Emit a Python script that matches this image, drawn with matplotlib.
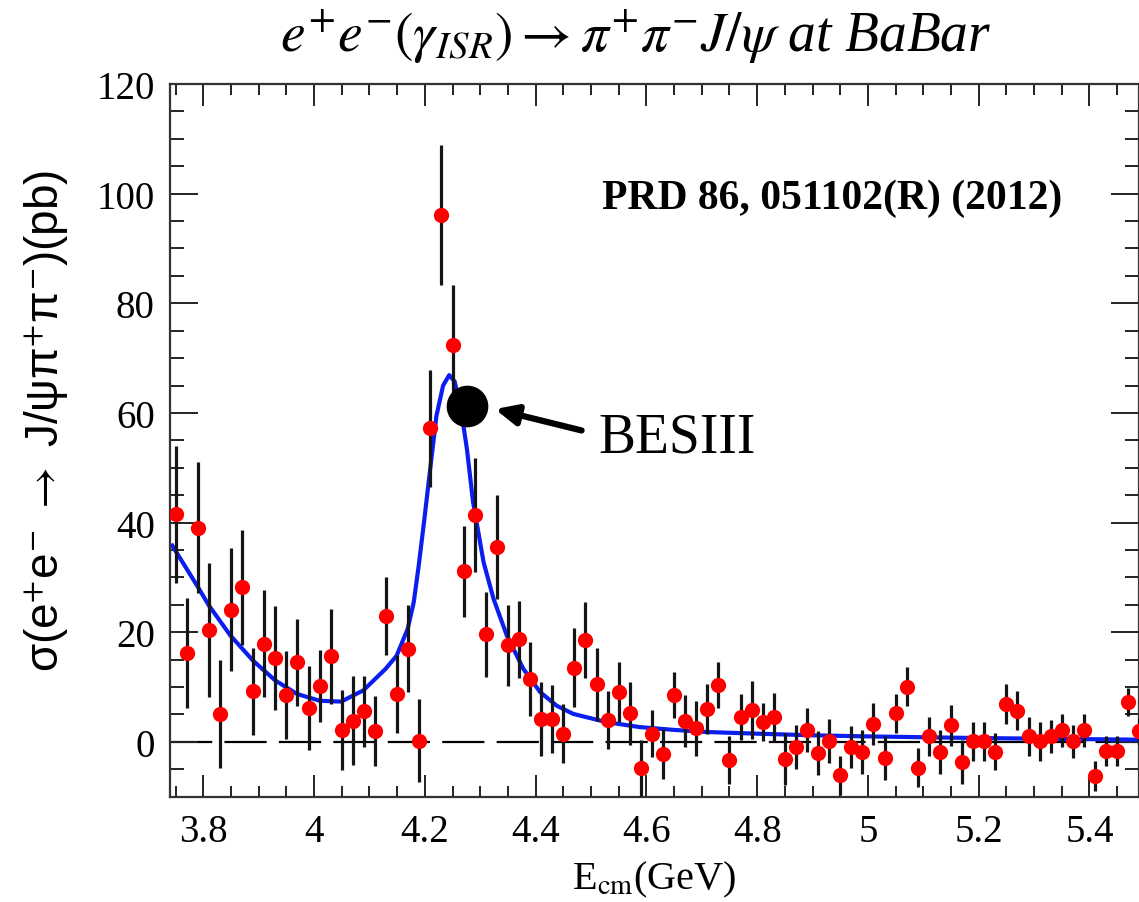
import numpy as np
import matplotlib
matplotlib.use("Agg")
import matplotlib.pyplot as plt

plt.rcParams['font.family'] = ['Liberation Serif', 'DejaVu Serif']
plt.rcParams['mathtext.fontset'] = 'stix'

# BaBar ISR data points (E_cm in GeV, sigma in pb, symmetric error)
e_cm = np.round(np.arange(88) * 0.02 + 3.75, 2)
sigma = [41.5, 16.2, 39.1, 20.4, 5.1, 24.1, 28.2, 9.2, 17.9, 15.3,
         8.6, 14.5, 6.2, 10.2, 15.6, 2.2, 3.9, 5.6, 2.0, 23.0,
         8.7, 17.0, 0.2, 57.2, 96.1, 72.4, 31.1, 41.3, 19.6, 35.6,
         17.6, 18.7, 11.5, 4.2, 4.2, 1.5, 13.5, 18.6, 10.5, 4.0,
         9.1, 5.2, -4.7, 1.5, -2.2, 8.5, 3.8, 2.5, 6.0, 10.4,
         -3.3, 4.5, 5.8, 3.6, 4.5, -3.1, -1.0, 2.2, -2.0, 0.2,
         -6.1, -0.9, -1.9, 3.3, -2.9, 5.2, 10.1, -4.7, 1.0, -1.9,
         3.0, -3.6, 0.1, 0.1, -1.8, 6.9, 5.7, 1.0, 0.1, 1.0,
         2.1, 0.1, 2.1, -6.2, -1.7, -1.7, 7.3, 1.9]
sigma_err = [12.5, 10.0, 12.0, 12.3, 9.8, 11.2, 10.5, 8.0, 9.8, 9.5,
             8.0, 8.0, 7.7, 6.5, 8.6, 7.3, 8.2, 6.5, 6.4, 7.1,
             7.1, 7.9, 7.6, 10.7, 12.7, 11.0, 8.3, 10.4, 7.7, 9.5,
             7.4, 7.0, 6.7, 6.7, 6.2, 5.4, 7.2, 7.0, 6.7, 5.3,
             5.5, 5.8, 5.1, 4.3, 4.5, 4.2, 4.7, 5.0, 4.6, 4.2,
             4.4, 4.2, 5.3, 3.5, 4.5, 4.7, 4.0, 4.0, 4.0, 4.0,
             3.5, 3.8, 4.0, 3.8, 4.0, 3.6, 3.5, 3.5, 3.5, 4.0,
             3.8, 4.0, 3.6, 3.6, 3.4, 3.6, 3.5, 3.5, 3.5, 3.0,
             3.0, 3.0, 3.0, 2.7, 2.7, 2.7, 2.6, 2.5]

# fit curve
fit_x = [3.744, 3.790, 3.810, 3.849, 3.890, 3.930, 3.969, 4.010, 4.049,
         4.089, 4.129, 4.149, 4.169, 4.180, 4.189, 4.199, 4.209, 4.221,
         4.233, 4.244, 4.254, 4.267, 4.276, 4.287, 4.306, 4.324, 4.348,
         4.378, 4.408, 4.438, 4.468, 4.528, 4.588, 4.648, 4.709, 4.799,
         4.90, 5.00, 5.20, 5.49]
fit_y = [35.8, 28.3, 24.9, 19.4, 14.8, 11.2, 8.75, 7.5, 7.35,
         9.4, 13.3, 15.7, 20.6, 25.5, 32.2, 40.5, 49.2, 59.5,
         65.0, 66.9, 65.7, 59.5, 53.4, 43.8, 32.8, 26.1, 19.4,
         13.3, 9.1, 6.6, 5.1, 3.6, 2.7, 2.2, 1.8, 1.5,
         1.2, 1.0, 0.7, 0.4]

bes_x = [4.276]
bes_y = [61.3]

fig = plt.figure(figsize=(11.39, 9.03), dpi=100)
ax = fig.add_axes([0.1493, 0.1166, 0.851, 0.7893])

ax.axhline(0, color='black', lw=1.6, dashes=(19, 5.5), zorder=1)
ax.plot(fit_x, fit_y, color='#0a1ef0', lw=3.0, zorder=2)
ax.errorbar(e_cm, sigma, yerr=sigma_err, fmt='o', color='#ff0000',
            ms=11, mec='none', ecolor='#151515', elinewidth=2.3,
            capsize=0, zorder=3)
ax.plot(bes_x, bes_y, 'o', color='black', ms=29, zorder=5)

ax.annotate('', xy=(4.3266, 60.7), xytext=(4.483, 56.8),
            arrowprops=dict(arrowstyle='-|>,head_length=1.3,head_width=0.6',
                            color='black', lw=4.5, shrinkA=0, shrinkB=0),
            zorder=6)
ax.text(4.5126, 52.9, 'BESIII', fontsize=40, va='baseline', ha='left')
ax.text(4.5198, 97.4, 'PRD 86, 051102(R) (2012)', fontsize=30,
        fontweight='bold', va='baseline', ha='left')

ax.set_xlim(3.74, 5.49)
ax.set_ylim(-10, 120)
ax.set_xticks([3.8, 4.0, 4.2, 4.4, 4.6, 4.8, 5.0, 5.2, 5.4])
ax.set_xticklabels(['3.8', '4', '4.2', '4.4', '4.6', '4.8', '5', '5.2', '5.4'])
ax.set_xticks(np.arange(3.75, 5.49, 0.05), minor=True)
ax.set_yticks(np.arange(0, 121, 20))
ax.set_yticks(np.arange(-10, 121, 5), minor=True)

ax.tick_params(axis='both', which='both', direction='in', top=True,
               right=True, width=1.4, color='#222222', labelsize=28)
ax.tick_params(axis='x', which='major', length=15.5, pad=12)
ax.tick_params(axis='x', which='minor', length=8)
ax.tick_params(axis='y', which='major', length=20, pad=11)
ax.tick_params(axis='y', which='minor', length=10)
for s in ax.spines.values():
    s.set_linewidth(1.6)
    s.set_color('#333333')

ax.set_xlabel(r'E$_{\rm cm}$(GeV)', fontsize=29, labelpad=6)
fig.text(0.040, 1 - 421 / 903,
         r'σ(e$^{+}$e$^{-}$ $\rightarrow$ J/ψπ$^{+}$π$^{-}$)(pb)',
         rotation=90, ha='center', va='center', fontsize=33,
         family='Liberation Sans')
fig.text(0.558, 1 - 37 / 903,
         r'$e^{+}e^{-}(\gamma_{ISR}) \rightarrow \pi^{+}\pi^{-} J/\psi$ at BaBar',
         ha='center', va='center', fontsize=40, style='italic')

fig.savefig('out.png', dpi=100)
